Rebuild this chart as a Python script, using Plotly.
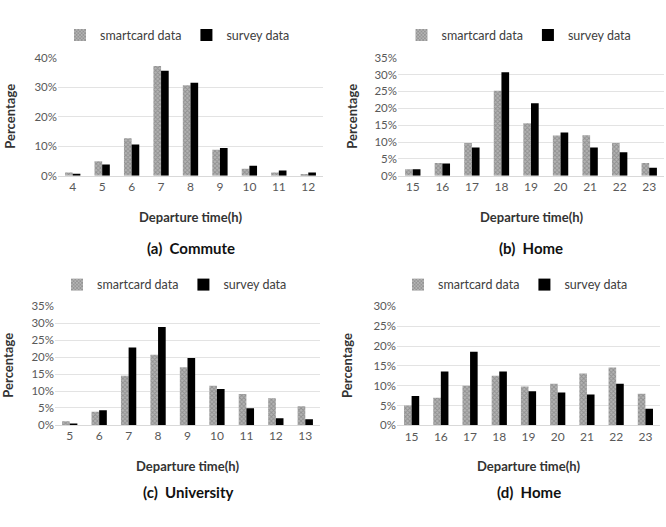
import plotly.graph_objects as go

# ---- data ----
hours_a = ["4", "5", "6", "7", "8", "9", "10", "11", "12"]
smart_a = [1.1, 4.9, 12.7, 37.2, 30.7, 8.8, 2.4, 1.1, 0.6]
survey_a = [0.7, 3.8, 10.6, 35.6, 31.5, 9.4, 3.4, 1.8, 1.1]

hours_b = ["15", "16", "17", "18", "19", "20", "21", "22", "23"]
smart_b = [1.9, 3.8, 9.7, 25.2, 15.6, 11.9, 12.0, 9.7, 3.8]
survey_b = [1.9, 3.6, 8.4, 30.7, 21.5, 12.8, 8.4, 7.0, 2.4]

hours_c = ["5", "6", "7", "8", "9", "10", "11", "12", "13"]
smart_c = [1.1, 3.9, 14.5, 20.7, 17.0, 11.6, 9.1, 7.9, 5.5]
survey_c = [0.4, 4.3, 22.9, 28.9, 19.8, 10.6, 4.9, 2.0, 1.7]

hours_d = ["15", "16", "17", "18", "19", "20", "21", "22", "23"]
smart_d = [5.0, 7.0, 10.0, 12.5, 9.8, 10.5, 13.1, 14.6, 8.0]
survey_d = [7.4, 13.6, 18.6, 13.6, 8.6, 8.3, 7.8, 10.5, 4.2]

panels = [
    ("(a)  Commute", hours_a, smart_a, survey_a, 40, 10),
    ("(b)  Home", hours_b, smart_b, survey_b, 35, 5),
    ("(c)  University", hours_c, smart_c, survey_c, 35, 5),
    ("(d)  Home", hours_d, smart_d, survey_d, 30, 5),
]

W, H = 666, 527
# plot areas in pixels: (left, right, top, bottom)
boxes = [
    (58, 323, 52, 173),
    (398, 664, 52, 173),
    (55, 320, 307, 428.5),
    (397, 660, 307, 429),
]
legend_y = [29, 29, 285, 285]
legend_dx = [-13, -12, -13, -13]
xtitle_y = [215, 215, 471, 471]
sub_y = [247, 247, 497, 497]
ytitle_x = [10, 352, 8, 347]

FONT = "Lato, 'Open Sans', Arial, sans-serif"
fig = go.Figure()
annotations = []
layout = {}

for i, (sub, cats, sm, sv, ymax, dt) in enumerate(panels):
    n = "" if i == 0 else str(i + 1)
    xa, ya = "x" + n, "y" + n
    leg = "legend" + n
    fig.add_trace(go.Bar(
        x=cats, y=sm, name="smartcard data", xaxis=xa, yaxis=ya, legend=leg,
        marker=dict(color="#9a9a9a", line=dict(width=0),
                    pattern=dict(shape="x", fgcolor="#6a6a6a", bgcolor="#b4b4b4",
                                 size=3, solidity=0.5)),
    ))
    fig.add_trace(go.Bar(
        x=cats, y=sv, name="survey data", xaxis=xa, yaxis=ya, legend=leg,
        marker=dict(color="#000000", line=dict(width=0)),
    ))
    l, r, t, b = boxes[i]
    layout["xaxis" + n] = dict(
        domain=[l / W, r / W], anchor=ya, type="category",
        showgrid=False, showline=True, linecolor="#d9d9d9", linewidth=1,
        ticks="", tickfont=dict(size=12, color="#595959", family=FONT),
    )
    layout["yaxis" + n] = dict(
        domain=[1 - b / H, 1 - t / H], anchor=xa, range=[0, ymax],
        dtick=dt, ticksuffix="%", showgrid=True, gridcolor="#e3e3e3",
        zeroline=False, showline=False, ticks="",
        tickfont=dict(size=11.5, color="#595959", family=FONT),
    )
    cx = (l + r) / 2 / W
    layout[leg] = dict(
        orientation="h", x=cx + legend_dx[i] / W, xanchor="center",
        y=1 - legend_y[i] / H, yanchor="middle",
        font=dict(size=12.5, color="#404040", family=FONT),
        bgcolor="rgba(0,0,0,0)", itemwidth=30, traceorder="normal",
    )
    annotations.append(dict(
        text="<b>Departure time(h)</b>", x=cx, y=1 - xtitle_y[i] / H,
        xref="paper", yref="paper", showarrow=False, xanchor="center",
        yanchor="middle", font=dict(size=13, color="#333333", family=FONT),
    ))
    annotations.append(dict(
        text="<b>" + sub + "</b>", x=cx, y=1 - sub_y[i] / H,
        xref="paper", yref="paper", showarrow=False, xanchor="center",
        yanchor="middle", font=dict(size=15, color="#111111", family=FONT),
    ))
    annotations.append(dict(
        text="<b>Percentage</b>", x=ytitle_x[i] / W, y=1 - ((t + b) / 2) / H,
        xref="paper", yref="paper", showarrow=False, xanchor="center",
        yanchor="middle", textangle=-90,
        font=dict(size=13, color="#333333", family=FONT),
    ))

fig.update_layout(
    width=W, height=H, margin=dict(l=0, r=0, t=0, b=0),
    paper_bgcolor="white", plot_bgcolor="white",
    barmode="group", bargap=0.48, bargroupgap=0.0,
    annotations=annotations, **layout,
)
fig.write_html("out.html")
